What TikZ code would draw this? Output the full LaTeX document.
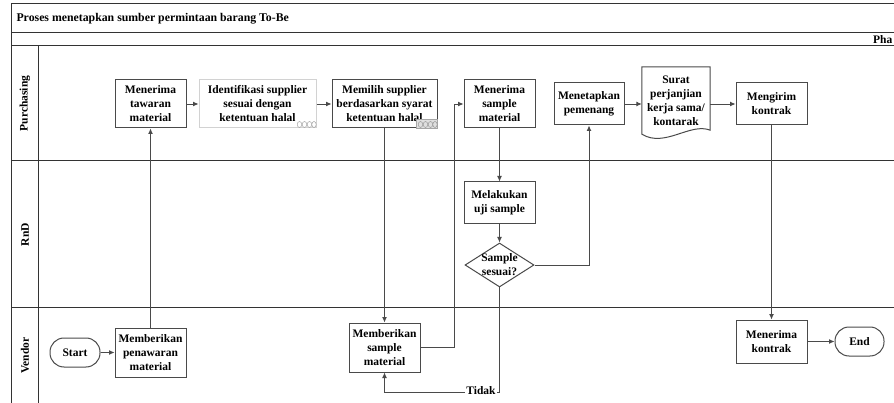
\documentclass[tikz,border=0pt]{standalone}
\usepackage{fontspec}
\setmainfont{Liberation Serif}
\usetikzlibrary{shapes.geometric,arrows.meta,calc}
\definecolor{frame}{HTML}{333333}
\definecolor{boxline}{HTML}{4A4A4A}
\definecolor{flow}{HTML}{4A4A4A}
\begin{document}
\begin{tikzpicture}[x=1pt,y=-1pt,
  lbl/.style={font=\fontsize{11.5}{14}\selectfont\bfseries, align=center},
  box/.style={lbl, draw=boxline, line width=1pt, inner sep=1pt},
  term/.style={box, rounded corners=14pt},
  arr/.style={draw=flow, line width=0.9pt, -{Latex[length=5.5pt,width=5pt]}},
  lane/.style={draw=frame, line width=1pt},
  loopmark/.style={draw=gray!70, line width=0.5pt}]
\useasboundingbox (0,0) rectangle (894,403);
% frame and lanes
\draw[lane] (11,403) -- (11,4) -- (894,4);
\draw[lane] (11,33) -- (894,33);
\draw[lane] (11,46) -- (894,46);
\draw[lane] (11,161) -- (894,161);
\draw[lane] (11,308) -- (894,308);
\draw[lane] (38,46) -- (38,403);
\node[lbl, anchor=west, font=\fontsize{11.8}{14}\selectfont\bfseries] (title) at (13,19) {Proses menetapkan sumber permintaan barang To-Be};
\node[lbl, anchor=west, inner sep=0pt] (phase) at (873,40) {Pha};
\node[lbl, rotate=90] (lp) at (25,103.5) {Purchasing};
\node[lbl, rotate=90] (lr) at (25,234.5) {RnD};
\node[lbl, rotate=90] (lv) at (25,355.5) {Vendor};
% nodes
\node[box, minimum width=71pt, minimum height=48pt] (mt) at (150.5,104) {Menerima\\tawaran\\material};
\node[box, draw=gray!35, minimum width=117pt, minimum height=48pt] (ids) at (257.5,104) {Identifikasi supplier\\sesuai dengan\\ketentuan halal};
\node[box, minimum width=105pt, minimum height=48pt] (mps) at (384.5,104) {Memilih supplier\\berdasarkan syarat\\ketentuan halal};
\node[box, minimum width=71pt, minimum height=48pt] (msm) at (499.5,104) {Menerima\\sample\\material};
\node[box, minimum width=70pt, minimum height=42pt] (mp) at (589,104) {Menetapkan\\pemenang};
\node[lbl, minimum width=68pt, minimum height=67pt, inner sep=0pt] (surat) at (676,100.5) {Surat\\perjanjian\\kerja sama/\\kontarak};
\draw[boxline, line width=1pt] (surat.south west) .. controls +(23,14) and +(-20,-8) .. ($(surat.south east)+(0,-4)$) -- (surat.north east) -- (surat.north west) -- cycle;
\node[box, minimum width=71pt, minimum height=42pt] (mk) at (771.5,104) {Mengirim\\kontrak};
\node[box, minimum width=71pt, minimum height=42pt] (mus) at (499.5,203) {Melakukan\\uji sample};
\node[diamond, draw=boxline, line width=1pt, minimum width=69pt, minimum height=44pt, inner sep=0pt,
  label={[lbl]center:Sample\\sesuai?}] (dia) at (499.5,265) {};
\node[term, minimum width=50pt, minimum height=29pt] (start) at (75,352.5) {Start};
\node[box, minimum width=71pt, minimum height=49pt] (mpen) at (150.5,352.5) {Memberikan\\penawaran\\material};
\node[box, minimum width=71pt, minimum height=49pt] (mksm) at (384.5,347.5) {Memberikan\\sample\\material};
\node[box, minimum width=71pt, minimum height=43pt] (mkk) at (771.5,341.5) {Menerima\\kontrak};
\node[term, minimum width=49pt, minimum height=29pt] (end) at (859.5,341.5) {End};
% markers
\foreach \dx in {-17,-12,-7,-2.5} \draw[loopmark] ($(ids.south east)+(\dx,-4)$) circle[x radius=2.2pt, y radius=3pt];
\draw[loopmark, fill=gray!25] ($(mps.south east)+(-21,0)$) rectangle ($(mps.south east)+(0,-9)$);
\foreach \dx in {-17,-12,-7,-2.5} \draw[loopmark, draw=gray!80] ($(mps.south east)+(\dx,-4)$) circle[x radius=2.2pt, y radius=3pt];
% connectors
\coordinate (bend1) at (454,104);
\coordinate (tcorner) at (499.5,392);
\draw[arr] (start) -- (mpen);
\draw[arr] (mpen.north) -- (mt.south);
\draw[arr] (mt) -- (ids);
\draw[arr] (ids) -- (mps);
\draw[arr] (mps.south) -- (mksm.north);
\draw[arr] (mksm.east) -| (bend1) -- (msm.west);
\draw[arr] (msm.south) -- (mus.north);
\draw[arr] (mus.south) -- (dia.north);
\draw[arr] (dia.east) -| (mp.south);
\draw[arr] (dia.south) -- (tcorner) -| (mksm.south);
\node[lbl, fill=white, inner sep=1pt] (tidak) at (481,391) {Tidak};
\draw[arr] (mp.east) -- (mp.east -| surat.west);
\draw[arr] (mp.east -| surat.east) -- (mk.west);
\draw[arr] (mk.south) -- (mkk.north);
\draw[arr] (mkk) -- (end);
\end{tikzpicture}
\end{document}
